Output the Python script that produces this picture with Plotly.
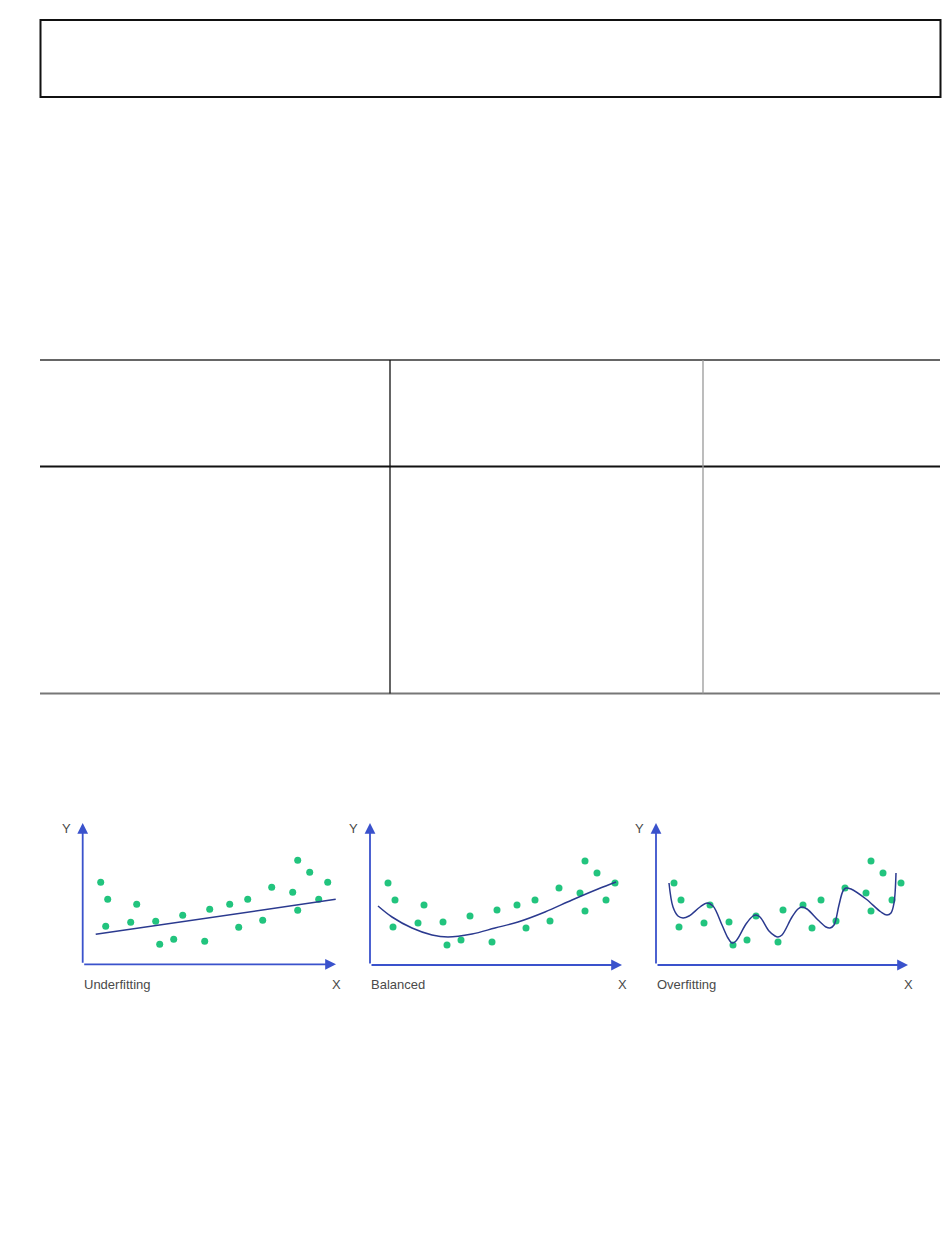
import plotly.graph_objects as go

# ---- data (units relative to each panel's origin) ----
point_x = [18, 25, 23, 48, 54, 73, 77, 91, 100, 122, 127, 147, 156, 165, 180, 189, 210, 215, 215, 227, 236, 245]
point_y = [82, 65, 38, 42, 60, 43, 20, 25, 49, 23, 55, 60, 37, 65, 44, 77, 72, 104, 54, 92, 65, 82]

under_x = [13, 253]
under_y = [30, 65]

balanced_x = [8, 22, 42, 62, 78, 102, 125, 148, 175, 202, 228, 246]
balanced_y = [59, 48, 37, 30, 28, 31, 37, 43, 53, 65, 76, 83]

over_x = [13, 17, 22, 27, 33, 44, 51, 57, 66, 72, 76, 80, 90, 97, 100, 104, 113, 119, 122, 126,
          136, 142, 146, 151, 162, 170, 174, 178, 183, 187, 190, 195, 210, 225, 231, 235, 238, 240]
over_y = [82, 58, 49, 47, 49, 58, 62, 59, 40, 27, 22, 24, 41, 49, 50, 48, 34, 29, 28, 30,
          48, 56, 58, 56, 45, 38, 37, 40, 60, 74, 77, 76, 66, 53, 50, 52, 62, 92]

panel_titles = ["Underfitting", "Balanced", "Overfitting"]

# ---- layout geometry (page pixels) ----
OFF = 8  # default body margin of the written page
W, H = 950 - 2 * OFF, 1254 - 2 * OFF
panels = [  # left, right(arrow tip), bottom(x axis), top(arrow tip)
    (82.7, 336.0, 964.3, 823.0),
    (370.0, 622.0, 965.0, 823.0),
    (656.0, 908.0, 965.0, 823.0),
]
curves = [(under_x, under_y), (balanced_x, balanced_y), (over_x, over_y)]

POINT_COLOR = "#22c47e"
CURVE_COLOR = "#2b3a8f"
AXIS_COLOR = "#3a52cc"
TEXT_COLOR = "#4a4a4a"

def px(x):
    return (x - OFF) / W

def py(y):
    return 1 - (y - OFF) / H

fig = go.Figure()
annotations = []
for i, ((l, r, b, t), (cx, cy), title) in enumerate(zip(panels, curves, panel_titles)):
    n = "" if i == 0 else str(i + 1)
    xr = [0, r - l]
    yr = [0, b - t]
    fig.add_trace(go.Scatter(x=point_x, y=point_y, mode="markers",
                             marker=dict(color=POINT_COLOR, size=7),
                             xaxis="x" + n, yaxis="y" + n, showlegend=False, hoverinfo="skip"))
    fig.add_trace(go.Scatter(x=cx, y=cy, mode="lines",
                             line=dict(color=CURVE_COLOR, width=1.5,
                                       shape="spline" if i > 0 else "linear",
                                       smoothing=1.0),
                             xaxis="x" + n, yaxis="y" + n, showlegend=False, hoverinfo="skip"))
    fig.update_layout(**{
        "xaxis" + n: dict(domain=[px(l), px(r)], range=xr, visible=False, anchor="y" + n, fixedrange=True),
        "yaxis" + n: dict(domain=[py(b), py(t)], range=yr, visible=False, anchor="x" + n, fixedrange=True),
    })
    # axes arrows
    annotations.append(dict(x=xr[1], y=0, ax=0, ay=0, xref="x" + n, yref="y" + n,
                            axref="x" + n, ayref="y" + n, showarrow=True, arrowhead=2,
                            arrowsize=1.2, arrowwidth=1.8, arrowcolor=AXIS_COLOR, text=""))
    annotations.append(dict(x=0, y=yr[1], ax=0, ay=0, xref="x" + n, yref="y" + n,
                            axref="x" + n, ayref="y" + n, showarrow=True, arrowhead=2,
                            arrowsize=1.2, arrowwidth=1.8, arrowcolor=AXIS_COLOR, text=""))
    # labels
    annotations.append(dict(x=px(l - 10), y=py(828), xref="paper", yref="paper", text="Y",
                            showarrow=False, xanchor="right", yanchor="middle",
                            font=dict(size=13, color=TEXT_COLOR, family="Arial")))
    annotations.append(dict(x=px(l - 1), y=py(984), xref="paper", yref="paper", text=title,
                            showarrow=False, xanchor="left", yanchor="middle",
                            font=dict(size=13, color=TEXT_COLOR, family="Arial")))
    annotations.append(dict(x=px(r), y=py(984), xref="paper", yref="paper", text="X",
                            showarrow=False, xanchor="center", yanchor="middle",
                            font=dict(size=13, color=TEXT_COLOR, family="Arial")))

shapes = []
# top box
shapes.append(dict(type="rect", xref="paper", yref="paper", x0=px(40.5), x1=px(940.5), y0=py(97), y1=py(20),
                   line=dict(color="#111111", width=2)))
# table lines
for yy, col in [(360, "#666666"), (466.5, "#111111"), (693.5, "#777777")]:
    shapes.append(dict(type="line", xref="paper", yref="paper", x0=px(40), x1=px(940), y0=py(yy), y1=py(yy),
                       line=dict(color=col, width=2)))
for xx, col in [(390, "#111111"), (703, "#999999")]:
    shapes.append(dict(type="line", xref="paper", yref="paper", x0=px(xx), x1=px(xx), y0=py(360), y1=py(693.5),
                       line=dict(color=col, width=1.3)))

fig.update_layout(width=W, height=H, margin=dict(l=0, r=0, t=0, b=0),
                  paper_bgcolor="white", plot_bgcolor="white",
                  annotations=annotations, shapes=shapes)

fig.write_html("out.html")
